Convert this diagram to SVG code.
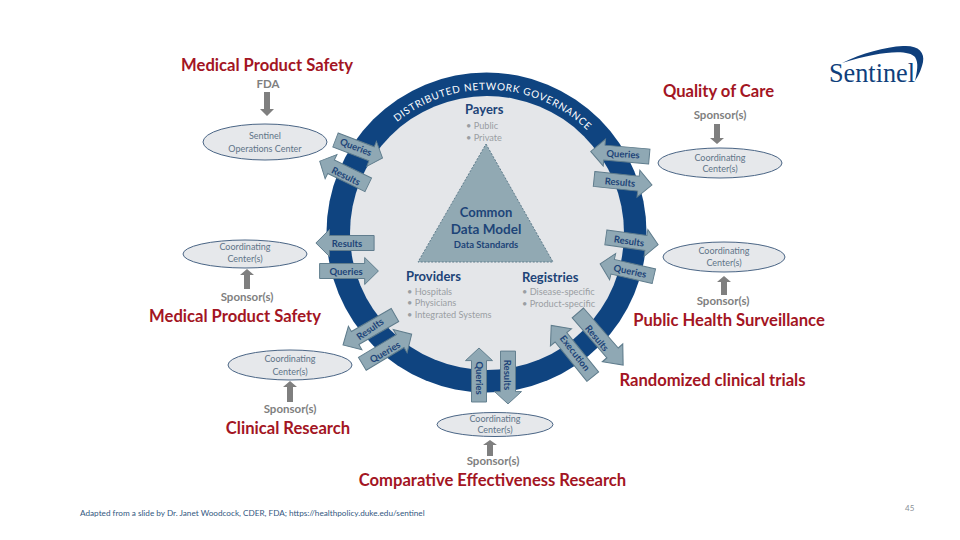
<svg xmlns="http://www.w3.org/2000/svg" xmlns:xlink="http://www.w3.org/1999/xlink" width="960" height="540" viewBox="0 0 960 540">
<style>
text{font-family:Lato,"Open Sans","Liberation Sans",sans-serif}
.h{font-size:16.6px;font-weight:700;fill:#a31523;text-anchor:middle}
.sp{font-size:11.5px;font-weight:700;fill:#7f7f7f;text-anchor:middle}
.el{fill:#e6e8eb;stroke:#4a6585;stroke-width:1}
.et{font-size:9px;fill:#5f7488;text-anchor:middle}
.arr{fill:#8fa8b4;stroke:#5f7c8c;stroke-width:1}
.al{font-size:9.500px;font-weight:700;fill:#1d4478;text-anchor:middle;dominant-baseline:central}
.ga{fill:#7f7f7f}
.t{font-size:13px;font-weight:700;fill:#1d4478}
.b{font-size:9.200px;fill:#9a9ea3}
</style>
<defs>
<polygon id="a" class="arr" points="-30,-7.500 16,-7.500 16,-13.500 30,0 16,13.500 16,7.500 -30,7.500"/>
<path id="arcp" d="M397 122A143 143 0 0 1 587 130"/>
</defs>
<rect width="960" height="540" fill="#fff"/>
<g id="ring">
<circle cx="486.500" cy="232.500" r="160" fill="#0f4480"/>
<circle cx="487" cy="233" r="137" fill="#e4e6e9"/>
<text font-size="10" fill="#fff" textLength="208" lengthAdjust="spacing"><textPath xlink:href="#arcp" href="#arcp">DISTRIBUTED NETWORK GOVERNANCE</textPath></text>
</g>
<g id="cdm">
<polygon points="486,144 553,262 418,262" fill="#91a9b3" stroke="#5f7c8c" stroke-dasharray="2 1.500"/>
<text x="486" y="217" class="t" text-anchor="middle" style="font-size:13px">Common</text>
<text x="486" y="234" class="t" text-anchor="middle" style="font-size:13.500px">Data Model</text>
<text x="486" y="248" text-anchor="middle" font-size="9.500" font-weight="700" fill="#1d4478">Data Standards</text>
</g>
<g id="payers">
<text x="465" y="114" class="t">Payers</text>
<text x="466" y="129" class="b">• Public</text>
<text x="466" y="141" class="b">• Private</text>
</g>
<g id="providers">
<text x="406" y="281" class="t">Providers</text>
<text x="407" y="295" class="b">•  Hospitals</text>
<text x="407" y="306" class="b">•  Physicians</text>
<text x="407" y="318" class="b">•  Integrated Systems</text>
</g>
<g id="registries">
<text x="522" y="282" class="t">Registries</text>
<text x="522" y="295" class="b">• Disease-specific</text>
<text x="522" y="307" class="b">• Product-specific</text>
</g>
<g id="connectors">
<g transform="translate(359,149) rotate(21) scale(.84,1)"><use href="#a"/></g>
<g transform="translate(344,173) rotate(206) scale(.9,1)"><use href="#a"/></g>
<g transform="translate(620,154) rotate(185) scale(.98,1)"><use href="#a"/></g>
<g transform="translate(623,182) rotate(6) scale(.97,1)"><use href="#a"/></g>
<g transform="translate(345,243) rotate(180) scale(.97,1)"><use href="#a"/></g>
<g transform="translate(349,271) scale(.98,1)"><use href="#a"/></g>
<g transform="translate(632,241) rotate(8) scale(.88,1)"><use href="#a"/></g>
<g transform="translate(627,270) rotate(193) scale(.92,1)"><use href="#a"/></g>
<g transform="translate(369,330) rotate(150)"><use href="#a"/></g>
<g transform="translate(387,349) rotate(-31) scale(.96,1)"><use href="#a"/></g>
<g transform="translate(479,375) rotate(-90) scale(.9,1)"><use href="#a"/></g>
<g transform="translate(508,377.500) rotate(90) scale(.88,1)"><use href="#a"/></g>
<g transform="translate(572,351) rotate(231) scale(1.1,1)"><use href="#a"/></g>
<g transform="translate(600.500,339) rotate(49) scale(1.15,1)"><use href="#a"/></g>
<text class="al" transform="translate(356,147) rotate(21)">Queries</text>
<text class="al" transform="translate(346,176) rotate(26)">Results</text>
<text class="al" transform="translate(623,154) rotate(3)">Queries</text>
<text class="al" transform="translate(620,182) rotate(5)">Results</text>
<text class="al" transform="translate(347,243)">Results</text>
<text class="al" transform="translate(346,271)">Queries</text>
<text class="al" transform="translate(629,241) rotate(8)">Results</text>
<text class="al" transform="translate(630,271) rotate(12)">Queries</text>
<text class="al" transform="translate(370,329) rotate(-35)">Results</text>
<text class="al" transform="translate(385,352) rotate(-30)">Queries</text>
<text class="al" transform="translate(479,378) rotate(90)">Queries</text>
<text class="al" transform="translate(507.500,375) rotate(90)">Results</text>
<text class="al" transform="translate(575,353) rotate(52)">Execution</text>
<text class="al" transform="translate(597,338) rotate(50)">Results</text>
<path class="ga" d="M264 92h6v17h4l-7 7-7-7h4z"/>
<path class="ga" d="M714 124h6v14h4l-7 6-7-6h4z"/>
<path class="ga" d="M244 289h6v-14h4l-7-6-7 6h4z"/>
<path class="ga" d="M721 295h6v-13h4l-7-6-7 6h4z"/>
<path class="ga" d="M287 402h6v-15h4l-7-6-7 6h4z"/>
<path class="ga" d="M487 456h6v-11h4l-7-5-7 5h4z"/>
</g>
<g id="n1"><text x="267" y="71" class="h">Medical Product Safety</text><text x="268" y="88" class="sp">FDA</text>
<ellipse class="el" cx="265" cy="142" rx="62" ry="18"/><text x="265" y="139" class="et">Sentinel</text><text x="265" y="152" class="et">Operations Center</text></g>
<g id="n2"><text x="718.500" y="97" class="h">Quality of Care</text><text x="720" y="119" class="sp">Sponsor(s)</text>
<ellipse class="el" cx="720" cy="163" rx="62" ry="15"/><text x="720" y="161" class="et">Coordinating</text><text x="720" y="172" class="et">Center(s)</text></g>
<g id="n3"><ellipse class="el" cx="245" cy="254" rx="62" ry="14"/><text x="245" y="250" class="et">Coordinating</text><text x="245" y="262" class="et">Center(s)</text>
<text x="247" y="301" class="sp">Sponsor(s)</text><text x="235" y="322" class="h">Medical Product Safety</text></g>
<g id="n4"><ellipse class="el" cx="724" cy="257" rx="61" ry="15"/><text x="724" y="254" class="et">Coordinating</text><text x="724" y="266" class="et">Center(s)</text>
<text x="723" y="305" class="sp">Sponsor(s)</text><text x="729" y="326" class="h">Public Health Surveillance</text></g>
<g id="n5"><ellipse class="el" cx="290" cy="365" rx="62" ry="15"/><text x="290" y="362" class="et">Coordinating</text><text x="290" y="375" class="et">Center(s)</text>
<text x="290" y="413" class="sp">Sponsor(s)</text><text x="288" y="434" class="h">Clinical Research</text></g>
<g id="n6"><ellipse class="el" cx="495" cy="424.500" rx="58" ry="12"/><text x="495" y="422" class="et">Coordinating</text><text x="495" y="433" class="et">Center(s)</text>
<text x="493" y="465" class="sp">Sponsor(s)</text><text x="492.500" y="486" class="h">Comparative Effectiveness Research</text></g>
<g id="n7"><text x="712.500" y="386" class="h">Randomized clinical trials</text></g>
<g id="logo">
<text x="829" y="82" font-size="27" fill="#0f3f7c" textLength="86" lengthAdjust="spacingAndGlyphs" style="font-family:'Liberation Serif',serif">Sentinel</text>
<path d="M842 63C862 53 885 47 903 46C918 45 925 52 923 62C921 71 918 76 915 81C917 72 919 63 915 57C908 49 880 51 842 63Z" fill="#0f3f7c"/>
</g>
<g id="footer">
<text x="80" y="516" font-size="8.200" fill="#33587f">Adapted from a slide by Dr. Janet Woodcock, CDER, FDA; https://healthpolicy.duke.edu/sentinel</text>
<text x="905" y="511" font-size="8" fill="#8a8f96">45</text>
</g>
</svg>
